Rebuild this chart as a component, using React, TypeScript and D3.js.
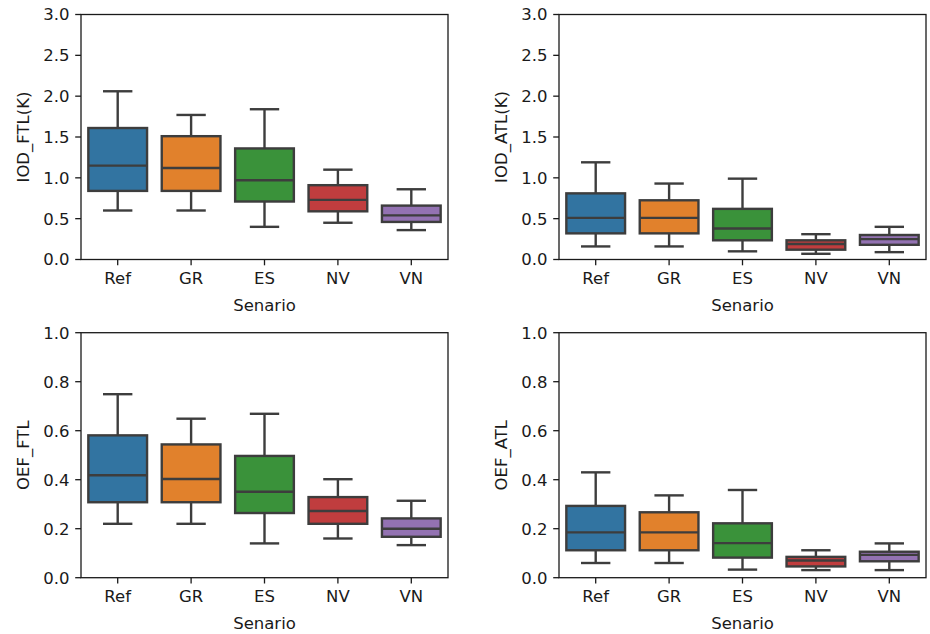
import React from "react";
import * as d3 from "d3";

const categories = ["Ref", "GR", "ES", "NV", "VN"];
const colors = ["#3274a1", "#e1812c", "#3a923a", "#c03d3e", "#9372b2"];

// IOD_FTL(K)
const iodFtlLow = [0.6, 0.6, 0.4, 0.45, 0.36];
const iodFtlQ1 = [0.84, 0.84, 0.71, 0.59, 0.46];
const iodFtlMed = [1.15, 1.12, 0.97, 0.73, 0.54];
const iodFtlQ3 = [1.61, 1.51, 1.36, 0.91, 0.66];
const iodFtlHigh = [2.06, 1.77, 1.84, 1.1, 0.86];

// IOD_ATL(K)
const iodAtlLow = [0.16, 0.16, 0.1, 0.07, 0.09];
const iodAtlQ1 = [0.32, 0.32, 0.235, 0.12, 0.18];
const iodAtlMed = [0.51, 0.51, 0.38, 0.19, 0.25];
const iodAtlQ3 = [0.81, 0.725, 0.62, 0.235, 0.3];
const iodAtlHigh = [1.19, 0.93, 0.99, 0.31, 0.4];

// OEF_FTL
const oefFtlLow = [0.22, 0.22, 0.14, 0.16, 0.133];
const oefFtlQ1 = [0.308, 0.308, 0.264, 0.22, 0.167];
const oefFtlMed = [0.418, 0.403, 0.351, 0.272, 0.2];
const oefFtlQ3 = [0.581, 0.544, 0.497, 0.329, 0.242];
const oefFtlHigh = [0.749, 0.649, 0.669, 0.402, 0.314];

// OEF_ATL
const oefAtlLow = [0.06, 0.06, 0.033, 0.031, 0.031];
const oefAtlQ1 = [0.112, 0.112, 0.082, 0.046, 0.067];
const oefAtlMed = [0.185, 0.185, 0.141, 0.07, 0.093];
const oefAtlQ3 = [0.293, 0.267, 0.222, 0.085, 0.106];
const oefAtlHigh = [0.43, 0.336, 0.358, 0.112, 0.14];

const iodTicks = [0, 0.5, 1.0, 1.5, 2.0, 2.5, 3.0];
const oefTicks = [0, 0.2, 0.4, 0.6, 0.8, 1.0];

const xLabel = "Senario";

const panels = [
  { ylabel: "IOD_FTL(K)", low: iodFtlLow, q1: iodFtlQ1, med: iodFtlMed, q3: iodFtlQ3, high: iodFtlHigh, ticks: iodTicks, max: 3, left: 81, top: 14.5 },
  { ylabel: "IOD_ATL(K)", low: iodAtlLow, q1: iodAtlQ1, med: iodAtlMed, q3: iodAtlQ3, high: iodAtlHigh, ticks: iodTicks, max: 3, left: 559, top: 14.5 },
  { ylabel: "OEF_FTL", low: oefFtlLow, q1: oefFtlQ1, med: oefFtlMed, q3: oefFtlQ3, high: oefFtlHigh, ticks: oefTicks, max: 1, left: 81, top: 332.7 },
  { ylabel: "OEF_ATL", low: oefAtlLow, q1: oefAtlQ1, med: oefAtlMed, q3: oefAtlQ3, high: oefAtlHigh, ticks: oefTicks, max: 1, left: 559, top: 332.7 },
];

const W = 367;
const H = 245;
const FONT = "'DejaVu Sans', sans-serif";
const FS = 16.5;
const GRAY = "#3d3d3d";
const LW = 2.4;
const TEXT = "#1a1a1a";

function Panel({ p }: { p: (typeof panels)[number] }) {
  const x = d3.scaleBand<string>().domain(categories).range([0, W]).padding(0);
  const y = d3.scaleLinear().domain([0, p.max]).range([H, 0]);
  const bw = x.bandwidth() * 0.8;
  const capW = bw * 0.5;
  return (
    <g transform={`translate(${p.left},${p.top})`}>
      {categories.map((c, i) => {
        const cx = (x(c) as number) + x.bandwidth() / 2;
        return (
          <g key={c}>
            <line x1={cx} x2={cx} y1={y(p.q1[i])} y2={y(p.low[i])} stroke={GRAY} strokeWidth={LW} />
            <line x1={cx} x2={cx} y1={y(p.q3[i])} y2={y(p.high[i])} stroke={GRAY} strokeWidth={LW} />
            <line x1={cx - capW / 2} x2={cx + capW / 2} y1={y(p.low[i])} y2={y(p.low[i])} stroke={GRAY} strokeWidth={LW} />
            <line x1={cx - capW / 2} x2={cx + capW / 2} y1={y(p.high[i])} y2={y(p.high[i])} stroke={GRAY} strokeWidth={LW} />
            <rect x={cx - bw / 2} y={y(p.q3[i])} width={bw} height={y(p.q1[i]) - y(p.q3[i])} fill={colors[i]} stroke={GRAY} strokeWidth={LW} />
            <line x1={cx - bw / 2} x2={cx + bw / 2} y1={y(p.med[i])} y2={y(p.med[i])} stroke={GRAY} strokeWidth={LW} />
            <line x1={cx} x2={cx} y1={H} y2={H + 5.8} stroke={TEXT} strokeWidth={1.3} />
            <text x={cx} y={H + 11.6} dy="0.76em" textAnchor="middle" fontFamily={FONT} fontSize={FS} fill={TEXT}>{c}</text>
          </g>
        );
      })}
      {p.ticks.map((t) => (
        <g key={t}>
          <line x1={-5.8} x2={0} y1={y(t)} y2={y(t)} stroke={TEXT} strokeWidth={1.3} />
          <text x={-11.6} y={y(t)} dy="0.36em" textAnchor="end" fontFamily={FONT} fontSize={FS} fill={TEXT}>{t.toFixed(1)}</text>
        </g>
      ))}
      <rect x={0} y={0} width={W} height={H} fill="none" stroke={TEXT} strokeWidth={1.3} />
      <text x={W / 2} y={H + 38.5} dy="0.76em" textAnchor="middle" fontFamily={FONT} fontSize={FS} fill={TEXT}>{xLabel}</text>
      <text transform={`translate(${-58},${H / 2}) rotate(-90)`} textAnchor="middle" dy="0.36em" fontFamily={FONT} fontSize={FS} fill={TEXT}>{p.ylabel}</text>
    </g>
  );
}

export default function App() {
  return (
    <svg width={930} height={634} style={{ position: "absolute", left: 0, top: 0, background: "#fff" }}>
      {panels.map((p) => (
        <Panel key={p.ylabel} p={p} />
      ))}
    </svg>
  );
}
